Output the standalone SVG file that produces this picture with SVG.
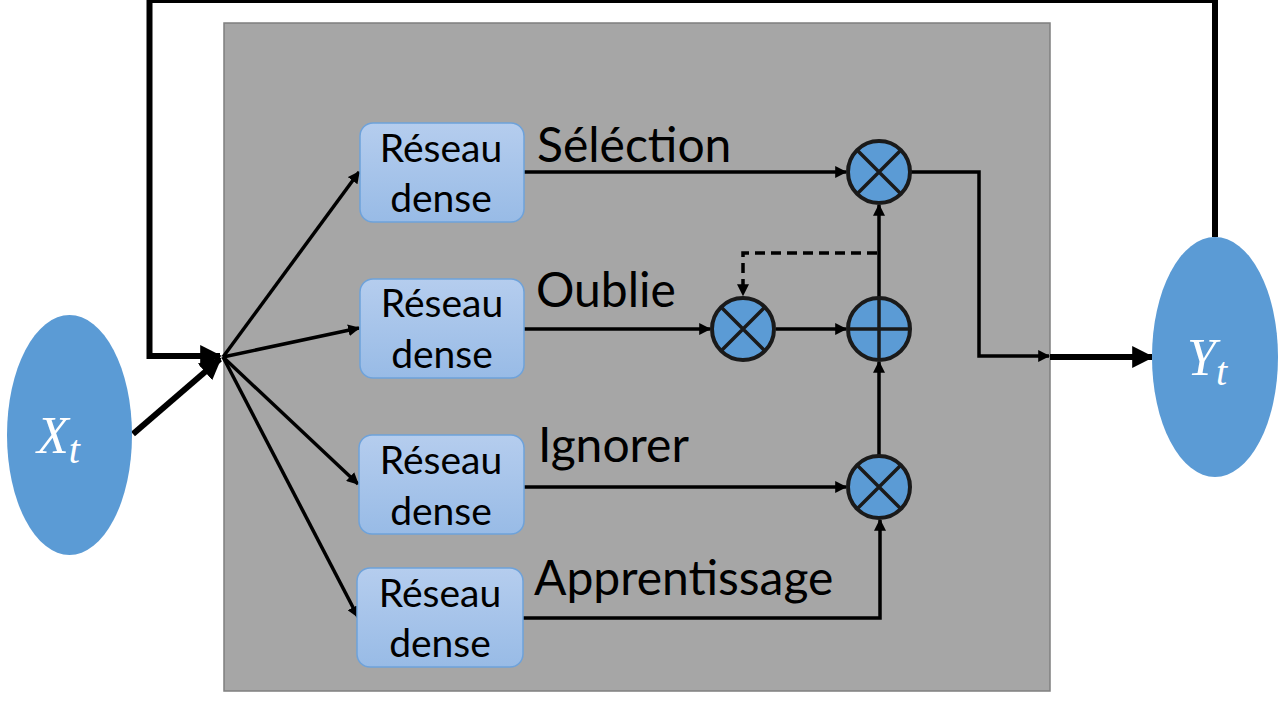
<svg xmlns="http://www.w3.org/2000/svg" width="1280" height="720" viewBox="0 0 1280 720">
<defs>
<linearGradient id="boxg" x1="0" y1="0" x2="0" y2="1">
<stop offset="0" stop-color="#b5cdee"/>
<stop offset="1" stop-color="#98bbe6"/>
</linearGradient>
<marker id="ah" viewBox="0 0 10 10" refX="9" refY="5" markerWidth="12" markerHeight="12" markerUnits="userSpaceOnUse" orient="auto">
<path d="M0,0 L10,5 L0,10 z" fill="#000"/>
</marker>
<marker id="ahb" viewBox="0 0 10 10" refX="9" refY="5" markerWidth="22" markerHeight="22" markerUnits="userSpaceOnUse" orient="auto">
<path d="M0,0 L10,5 L0,10 z" fill="#000"/>
</marker>
</defs>
<style>
.box{fill:url(#boxg);stroke:#6ea2da;stroke-width:1.5}
.bt{font-family:Lato,"Liberation Sans",sans-serif;font-size:39px;fill:#000;text-anchor:middle}
.lbl{font-family:Lato,"Liberation Sans",sans-serif;font-size:48px;fill:#000}
.op{fill:#5b9bd5;stroke:#1a1a1a;stroke-width:4}
.opl{stroke:#1a1a1a;stroke-width:3.5;fill:none}
.ln{stroke:#000;stroke-width:3.5;fill:none}
.thick{stroke:#000;stroke-width:6;fill:none}
.math{font-family:"Liberation Serif",serif;font-style:italic;fill:#fff}
</style>
<rect x="0" y="0" width="1280" height="720" fill="#fff"/>
<rect id="panel" x="224" y="23" width="826" height="668" fill="#a6a6a6" stroke="#7f7f7f" stroke-width="1.5"/>

<g id="connectors">
<path class="thick" d="M1215,237 V0 H149.5 V356 H220" marker-end="url(#ahb)"/>
<path class="thick" d="M133,434 L220,359" marker-end="url(#ahb)"/>
<line class="ln" x1="223" y1="357" x2="359" y2="172" marker-end="url(#ah)"/>
<line class="ln" x1="223" y1="357" x2="359" y2="328" marker-end="url(#ah)"/>
<line class="ln" x1="223" y1="357" x2="358" y2="484" marker-end="url(#ah)"/>
<line class="ln" x1="223" y1="357" x2="358" y2="617" marker-end="url(#ah)"/>
<line class="ln" x1="524" y1="172" x2="846" y2="172" marker-end="url(#ah)"/>
<line class="ln" x1="524" y1="329" x2="710" y2="329" marker-end="url(#ah)"/>
<line class="ln" x1="776" y1="329" x2="846" y2="329" marker-end="url(#ah)"/>
<line class="ln" x1="524" y1="487" x2="846" y2="487" marker-end="url(#ah)"/>
<path class="ln" d="M523,618 H880 V520" marker-end="url(#ah)"/>
<line class="ln" x1="879" y1="455" x2="879" y2="362" marker-end="url(#ah)"/>
<line class="ln" x1="879" y1="297" x2="879" y2="205" marker-end="url(#ah)"/>
<path class="ln" d="M877,253 H743 V295" stroke-dasharray="10,6" marker-end="url(#ah)"/>
<path class="ln" d="M911,172 H979 V356 H1049" marker-end="url(#ah)"/>
<line class="thick" x1="1050" y1="357" x2="1152" y2="357" marker-end="url(#ahb)"/>
</g>

<g id="xt">
<ellipse cx="69.5" cy="435" rx="62.5" ry="120" fill="#5b9bd5"/>
<text class="math" x="37" y="453" font-size="52">X<tspan font-size="40" dy="10">t</tspan></text>
</g>
<g id="yt">
<ellipse cx="1215" cy="357" rx="63" ry="120" fill="#5b9bd5"/>
<text class="math" x="1187" y="375" font-size="52">Y<tspan font-size="40" dy="10">t</tspan></text>
</g>

<g id="dense1">
<rect class="box" x="360" y="123" width="164" height="99" rx="13"/>
<text class="bt" x="441" y="162">Réseau</text>
<text class="bt" x="441" y="212">dense</text>
</g>
<g id="dense2">
<rect class="box" x="360" y="279" width="164" height="99" rx="13"/>
<text class="bt" x="442" y="317">Réseau</text>
<text class="bt" x="442" y="368">dense</text>
</g>
<g id="dense3">
<rect class="box" x="359" y="435" width="165" height="99" rx="13"/>
<text class="bt" x="441" y="474">Réseau</text>
<text class="bt" x="441" y="525">dense</text>
</g>
<g id="dense4">
<rect class="box" x="357" y="568" width="166" height="99" rx="13"/>
<text class="bt" x="440" y="607">Réseau</text>
<text class="bt" x="440" y="657">dense</text>
</g>

<g id="labels">
<text class="lbl" x="537" y="162">Séléction</text>
<text class="lbl" x="536" y="307">Oublie</text>
<text class="lbl" x="538" y="462">Ignorer</text>
<text class="lbl" x="534" y="595">Apprentissage</text>
</g>

<g id="mul-selection">
<circle class="op" cx="879" cy="172" r="31"/>
<path class="opl" d="M857,150 L901,194 M901,150 L857,194"/>
</g>
<g id="mul-oublie">
<circle class="op" cx="743" cy="329" r="31"/>
<path class="opl" d="M721,307 L765,351 M765,307 L721,351"/>
</g>
<g id="add">
<circle class="op" cx="879" cy="329" r="31"/>
<path class="opl" d="M848,329 H910 M879,298 V360"/>
</g>
<g id="mul-ignorer">
<circle class="op" cx="879" cy="487" r="31"/>
<path class="opl" d="M857,465 L901,509 M901,465 L857,509"/>
</g>
</svg>
